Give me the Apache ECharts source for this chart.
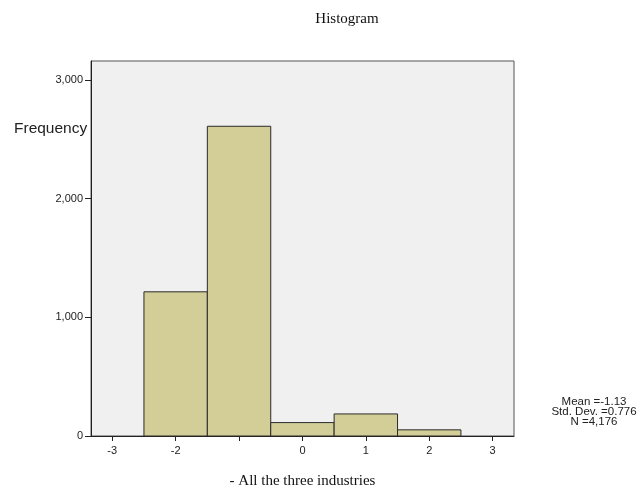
<!DOCTYPE html>
<html>
<head>
<meta charset="utf-8">
<script src="https://cdn.jsdelivr.net/npm/echarts@6/dist/echarts.min.js"></script>
<style>html,body{margin:0;padding:0;background:#fff;}#c{width:637px;height:489px;}</style>
</head>
<body>
<div id="c"></div>
<script>
var binStarts = [-2.5, -1.5, -0.5, 0.5, 1.5];
var binEnds = [-1.5, -0.5, 0.5, 1.5, 2.5];
var frequencies = [1215, 2610, 113, 186, 52];
var xTicks = [-3, -2, -1, 0, 1, 2, 3];
var xLabels = [-3, -2, 0, 1, 2, 3];
var yTicks = [0, 1000, 2000, 3000];
var statsLines = ['Mean =-1.13', 'Std. Dev. =0.776', 'N =4,176'];

var data = binStarts.map(function (s, i) { return [s, binEnds[i], frequencies[i]]; });

var chart = echarts.init(document.getElementById('c'));
chart.setOption({
  animation: false,
  backgroundColor: '#ffffff',
  title: {
    text: 'Histogram', left: 342, top: 7, textAlign: 'center',
    textStyle: { fontFamily: 'Liberation Serif', fontSize: 15, fontWeight: 'normal', color: '#111' }
  },
  grid: {
    left: 91, top: 61, right: 123, bottom: 53,
    outerBoundsMode: 'none', containLabel: false,
    show: true, backgroundColor: '#f0f0f0', borderColor: '#555', borderWidth: 1
  },
  xAxis: {
    type: 'value', min: -3.335, max: 3.337,
    name: '- All the three industries', nameLocation: 'middle', nameGap: 38,
    nameTextStyle: { fontFamily: 'Liberation Serif', fontSize: 15, color: '#111' },
    axisLine: { show: true, onZero: false, lineStyle: { color: '#222' } },
    axisTick: { show: true, length: 5, lineStyle: { color: '#222' }, customValues: xTicks },
    axisLabel: { fontFamily: 'Liberation Sans', fontSize: 11, color: '#222', margin: 9,
      customValues: xLabels, formatter: function (v) { return String(v); } },
    splitLine: { show: false }
  },
  yAxis: {
    type: 'value', min: 0, max: 3160,
    axisLine: { show: true, onZero: false, lineStyle: { color: '#222' } },
    axisTick: { show: true, length: 6, lineStyle: { color: '#222' }, customValues: yTicks },
    axisLabel: { fontFamily: 'Liberation Sans', fontSize: 11, color: '#222', margin: 8,
      customValues: yTicks,
      formatter: function (v) { return v.toLocaleString('en-US'); } },
    splitLine: { show: false }
  },
  series: [{
    type: 'custom',
    data: data,
    encode: { x: [0, 1], y: 2 },
    renderItem: function (params, api) {
      var p0 = api.coord([api.value(0), api.value(2)]);
      var p1 = api.coord([api.value(1), 0]);
      return {
        type: 'rect',
        shape: { x: p0[0], y: p0[1], width: p1[0] - p0[0], height: p1[1] - p0[1] },
        style: { fill: '#d3ce98', stroke: '#2a2a2a', lineWidth: 1 }
      };
    }
  }],
  graphic: [
    { type: 'text', left: 14, top: 121,
      style: { text: 'Frequency', fontFamily: 'Liberation Sans', fontSize: 15.5, fill: '#222' } },
    { type: 'text', x: 594, y: 397,
      style: { text: statsLines.join('\n'), fontFamily: 'Liberation Sans', fontSize: 11.5,
        lineHeight: 10, align: 'center', fill: '#222' } }
  ]
});
</script>
</body>
</html>
